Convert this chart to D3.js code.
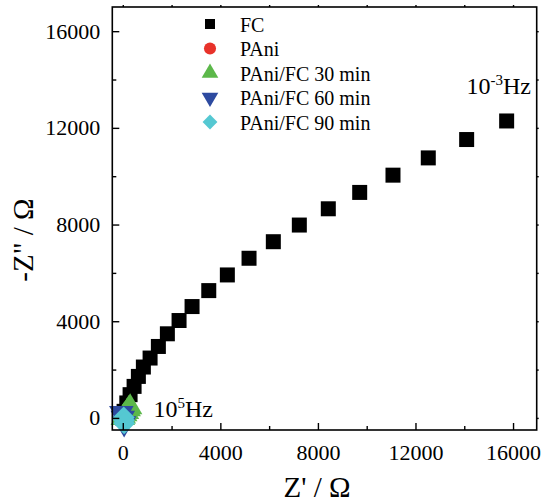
<!DOCTYPE html>
<html><head><meta charset="utf-8">
<script src="https://cdn.jsdelivr.net/npm/d3@7"></script>
<style>body{margin:0;background:#fff}svg{display:block;font-family:"Liberation Serif","Times New Roman",serif}</style>
</head><body><svg id="c" width="546" height="503"></svg>
<script>
const seriesNames = ["FC", "PAni", "PAni/FC 30 min", "PAni/FC 60 min", "PAni/FC 90 min"];
const fcX = [0, 53, 164, 299, 463, 639, 844, 1119, 1459, 1828, 2307, 2840, 3525, 4287, 5176, 6172, 7238, 8426, 9713, 11078, 12525, 14098, 15738];
const fcY = [0, 272, 619, 962, 1304, 1717, 2105, 2477, 2956, 3480, 4029, 4607, 5267, 5915, 6605, 7290, 7979, 8652, 9329, 10043, 10757, 11517, 12285];
const paniX = [0, 30, 70, 120, 170];
const paniY = [0, 50, 110, 180, 250];
const pf30X = [0, 40, 100, 170, 240, 300];
const pf30Y = [0, 60, 150, 250, 360, 440];
const pf60X = [-60, 0, 55];
const pf60Y = [200, 0, -220];
const pf90X = [40, 50, 55];
const pf90Y = [20, -100, -220];
const xTicks = [0, 4000, 8000, 12000, 16000];
const yTicks = [0, 4000, 8000, 12000, 16000];
const minorTicks = [2000, 6000, 10000, 14000];

const svg = d3.select("#c");
const x = d3.scaleLinear().domain([-430, 16970]).range([112.3, 536.7]);
const y = d3.scaleLinear().domain([-500, 17000]).range([430, 7]);

const colors = ["#000000", "#e8322a", "#5cb84a", "#2d4aa0", "#55c8d2"];
const shapes = [d3.symbolSquare, d3.symbolCircle, d3.symbolTriangle, d3.symbolTriangle, d3.symbolSquare];
const sizes = [225, 170, 260, 260, 240];
const rot = [0, 0, 0, 180, 45];

const data = [
  fcX.map((v,i)=>[v, fcY[i]]),
  paniX.map((v,i)=>[v, paniY[i]]),
  pf30X.map((v,i)=>[v, pf30Y[i]]),
  pf60X.map((v,i)=>[v, pf60Y[i]]),
  pf90X.map((v,i)=>[v, pf90Y[i]])
];

// points
data.forEach((pts, k) => {
  svg.append("g").selectAll("path").data(pts).join("path")
    .attr("d", d3.symbol().type(shapes[k]).size(sizes[k]))
    .attr("transform", d => `translate(${x(d[0])},${y(d[1])}) rotate(${rot[k]})`)
    .attr("fill", colors[k]);
});

// frame
const x0 = x.range()[0], x1 = x.range()[1], y0 = y.range()[0], y1 = y.range()[1];
svg.append("rect").attr("x", x0).attr("y", y1).attr("width", x1 - x0).attr("height", y0 - y1)
  .attr("fill", "none").attr("stroke", "#000").attr("stroke-width", 1.6);

// axes
svg.append("g").attr("transform", `translate(0,${y0})`)
  .call(d3.axisBottom(x).tickValues(xTicks).tickSize(-7).tickPadding(14).tickFormat(d3.format("d")));
svg.append("g").attr("transform", `translate(${x0},0)`)
  .call(d3.axisLeft(y).tickValues(yTicks).tickSize(-7).tickPadding(12).tickFormat(d3.format("d")));
svg.append("g").attr("transform", `translate(0,${y0})`)
  .call(d3.axisBottom(x).tickValues(minorTicks).tickSize(-4).tickFormat(""));
svg.append("g").attr("transform", `translate(${x0},0)`)
  .call(d3.axisLeft(y).tickValues(minorTicks).tickSize(-4).tickFormat(""));
svg.append("g").attr("transform", `translate(0,${y1})`)
  .call(d3.axisTop(x).tickValues(xTicks.concat(minorTicks)).tickSize(2).tickFormat(""));
svg.append("g").attr("transform", `translate(${x1},0)`)
  .call(d3.axisRight(y).tickValues(yTicks.concat(minorTicks)).tickSize(2).tickFormat(""));
svg.selectAll(".domain").remove();
svg.selectAll(".tick line").attr("stroke", "#000").attr("stroke-width", 1.4);
svg.selectAll(".tick text").attr("font-size", 22).attr("fill", "#000").attr("font-family", "Liberation Serif");

// axis titles
svg.append("text").attr("x", 317).attr("y", 497).attr("text-anchor", "middle")
  .attr("font-size", 29).text("Z' / Ω");
svg.append("text").attr("transform", "translate(33,240) rotate(-90)").attr("text-anchor", "middle")
  .attr("font-size", 29).text('-Z" / Ω');

// legend
const lg = svg.append("g");
const legSizes = [100, 115, 120, 120, 110];
seriesNames.forEach((name, k) => {
  const cy = 24 + k * 24.5;
  lg.append("path").attr("d", d3.symbol().type(shapes[k]).size(legSizes[k]))
    .attr("transform", `translate(210,${cy}) rotate(${rot[k]})`).attr("fill", colors[k]);
  lg.append("text").attr("x", 240).attr("y", cy + 7.5).attr("font-size", 20).text(name);
});

// frequency annotations
const a1 = svg.append("text").attr("x", 466.5).attr("y", 93.5).attr("font-size", 24);
a1.append("tspan").text("10");
a1.append("tspan").attr("dy", -9).attr("font-size", 15).text("-3");
a1.append("tspan").attr("dy", 9).text("Hz");
const a2 = svg.append("text").attr("x", 153.5).attr("y", 417).attr("font-size", 24);
a2.append("tspan").text("10");
a2.append("tspan").attr("dy", -9).attr("font-size", 15).text("5");
a2.append("tspan").attr("dy", 9).text("Hz");
</script></body></html>
